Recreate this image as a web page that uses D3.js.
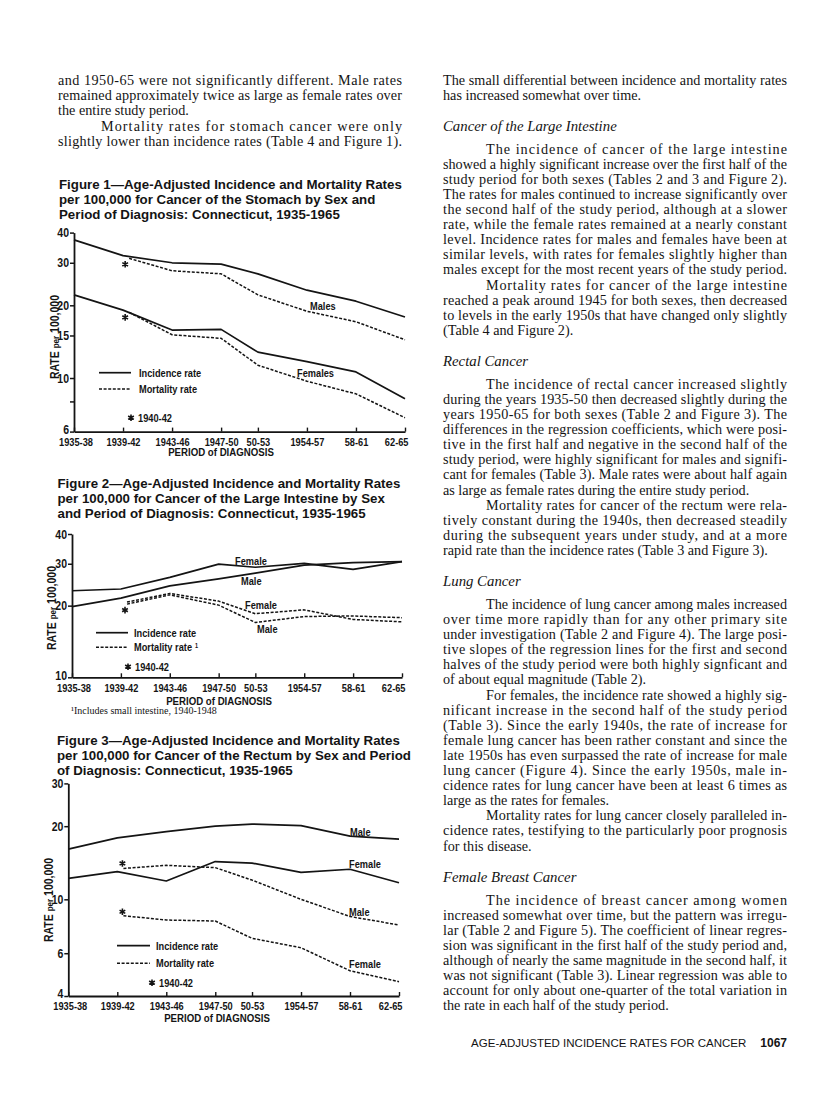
<!DOCTYPE html>
<html><head><meta charset="utf-8">
<script src="https://cdn.jsdelivr.net/npm/d3@7"></script>
<style>
body{margin:0;background:#fff;}
svg{display:block;}
</style></head><body>
<svg id="page" width="816" height="1096"></svg>
<script>
// ---------- DATA ----------
const periods = ["1935-38","1939-42","1943-46","1947-50","50-53","1954-57","58-61","62-65"];
const periodYears = [1936.5,1940.5,1944.5,1948.5,1951.5,1955.5,1959.5,1963.5];
const mortalityYears = [1941,1944.5,1948.5,1951.5,1955.5,1959.5,1963.5]; // first point = 1940-42

// Figure 1: stomach
const stomachMaleIncidence   = [37.3,32.1,30.0,29.6,27.0,23.1,20.8,17.9];
const stomachMaleMortality   = [31.3,27.8,27.0,22.1,18.9,17.1,14.4];
const stomachFemaleIncidence = [22.1,19.1,15.8,15.9,12.8,11.7,10.6,8.2];
const stomachFemaleMortality = [18.7,15.1,14.6,11.3,9.7,8.6,6.85];
const fig1Ticks = [6,8,10,15,20,30,40];
const fig1TickLabels = ["6","","10","15","20","30","40"];

// Figure 2: large intestine
const intestineFemaleIncidence = [23.1,23.5,26.3,29.9,29.0,30.1,28.4,30.6];
const intestineMaleIncidence   = [19.8,21.5,24.2,25.9,27.4,29.6,30.3,30.6];
const intestineFemaleMortality = [20.7,22.5,20.9,18.5,19.2,17.5,17.1];
const intestineMaleMortality   = [20.3,22.2,20.1,17.0,18.0,18.1,17.8];
const fig2Ticks = [10,20,30,40];
const fig2TickLabels = ["10","20","30","40"];

// Figure 3: rectum
const rectumMaleIncidence   = [16.1,17.9,19.0,20.0,20.4,20.1,18.2,17.7];
const rectumFemaleIncidence = [12.2,13.0,11.9,14.3,14.1,12.9,13.3,11.7];
const rectumMaleMortality   = [13.4,13.8,13.5,12.0,10.0,8.5,7.84];
const rectumFemaleMortality = [8.56,8.22,8.14,6.91,6.32,5.08,4.58];
const fig3Ticks = [4,6,10,20,30];
const fig3TickLabels = ["4","6","10","20","30"];

// ---------- TEXT ----------
const leftLines = [
  {t:"and 1950-65 were not significantly different. Male rates", j:1},
  {t:"remained approximately twice as large as female rates over", j:1},
  {t:"the entire study period."},
  {t:"Mortality rates for stomach cancer were only", j:1, ind:1},
  {t:"slightly lower than incidence rates (Table 4 and Figure 1).", j:1}
];
const rightLines = [
  {t:"The small differential between incidence and mortality rates", j:1},
  {t:"has increased somewhat over time."},
  {h:"Cancer of the Large Intestine"},
  {t:"The incidence of cancer of the large intestine", j:1, ind:1},
  {t:"showed a highly significant increase over the first half of the", j:1},
  {t:"study period for both sexes (Tables 2 and 3 and Figure 2).", j:1},
  {t:"The rates for males continued to increase significantly over", j:1},
  {t:"the second half of the study period, although at a slower", j:1},
  {t:"rate, while the female rates remained at a nearly constant", j:1},
  {t:"level. Incidence rates for males and females have been at", j:1},
  {t:"similar levels, with rates for females slightly higher than", j:1},
  {t:"males except for the most recent years of the study period.", j:1},
  {t:"Mortality rates for cancer of the large intestine", j:1, ind:1},
  {t:"reached a peak around 1945 for both sexes, then decreased", j:1},
  {t:"to levels in the early 1950s that have changed only slightly", j:1},
  {t:"(Table 4 and Figure 2)."},
  {h:"Rectal Cancer"},
  {t:"The incidence of rectal cancer increased slightly", j:1, ind:1},
  {t:"during the years 1935-50 then decreased slightly during the", j:1},
  {t:"years 1950-65 for both sexes (Table 2 and Figure 3). The", j:1},
  {t:"differences in the regression coefficients, which were posi-", j:1},
  {t:"tive in the first half and negative in the second half of the", j:1},
  {t:"study period, were highly significant for males and signifi-", j:1},
  {t:"cant for females (Table 3). Male rates were about half again", j:1},
  {t:"as large as female rates during the entire study period."},
  {t:"Mortality rates for cancer of the rectum were rela-", j:1, ind:1},
  {t:"tively constant during the 1940s, then decreased steadily", j:1},
  {t:"during the subsequent years under study, and at a more", j:1},
  {t:"rapid rate than the incidence rates (Table 3 and Figure 3)."},
  {h:"Lung Cancer"},
  {t:"The incidence of lung cancer among males increased", j:1, ind:1},
  {t:"over time more rapidly than for any other primary site", j:1},
  {t:"under investigation (Table 2 and Figure 4). The large posi-", j:1},
  {t:"tive slopes of the regression lines for the first and second", j:1},
  {t:"halves of the study period were both highly signficant and", j:1},
  {t:"of about equal magnitude (Table 2)."},
  {t:"For females, the incidence rate showed a highly sig-", j:1, ind:1},
  {t:"nificant increase in the second half of the study period", j:1},
  {t:"(Table 3). Since the early 1940s, the rate of increase for", j:1},
  {t:"female lung cancer has been rather constant and since the", j:1},
  {t:"late 1950s has even surpassed the rate of increase for male", j:1},
  {t:"lung cancer (Figure 4). Since the early 1950s, male in-", j:1},
  {t:"cidence rates for lung cancer have been at least 6 times as", j:1},
  {t:"large as the rates for females."},
  {t:"Mortality rates for lung cancer closely paralleled in-", j:1, ind:1},
  {t:"cidence rates, testifying to the particularly poor prognosis", j:1},
  {t:"for this disease."},
  {h:"Female Breast Cancer"},
  {t:"The incidence of breast cancer among women", j:1, ind:1},
  {t:"increased somewhat over time, but the pattern was irregu-", j:1},
  {t:"lar (Table 2 and Figure 5). The coefficient of linear regres-", j:1},
  {t:"sion was significant in the first half of the study period and,", j:1},
  {t:"although of nearly the same magnitude in the second half, it", j:1},
  {t:"was not significant (Table 3). Linear regression was able to", j:1},
  {t:"account for only about one-quarter of the total variation in", j:1},
  {t:"the rate in each half of the study period."}
];
const fig1Title = ["Figure 1\u2014Age-Adjusted Incidence and Mortality Rates","per 100,000 for Cancer of the Stomach by Sex and","Period of Diagnosis: Connecticut, 1935-1965"];
const fig2Title = ["Figure 2\u2014Age-Adjusted Incidence and Mortality Rates","per 100,000 for Cancer of the Large Intestine by Sex","and Period of Diagnosis: Connecticut, 1935-1965"];
const fig3Title = ["Figure 3\u2014Age-Adjusted Incidence and Mortality Rates","per 100,000 for Cancer of the Rectum by Sex and Period","of Diagnosis: Connecticut, 1935-1965"];

// ---------- PAGE ----------
const svg = d3.select("#page");
const INK = "#141414";
const SERIF = "'Liberation Serif','Times New Roman',serif";
const SANS = "'Liberation Sans',Arial,sans-serif";
const BODY_SIZE = 14.2, COLW = 344, INDENT = 43;

function bodyLine(x, y, d, w) {
  const xx = x + (d.ind ? INDENT : 0);
  const t = svg.append("text").attr("x", xx).attr("y", y)
    .attr("font-family", SERIF).attr("font-size", BODY_SIZE).attr("fill", INK).text(d.t);
  if (d.j) t.attr("textLength", w - (d.ind ? INDENT : 0)).attr("lengthAdjust", "spacing");
}
// left column
const LX = 58;
leftLines.forEach((d, i) => bodyLine(LX, 84.5 + i * 15.4, d, COLW));

// right column
const RX = 443, RLH = 15.1;
let cur = 84.5;
rightLines.forEach(d => {
  if (d.h) {
    const hy = cur - RLH + 31.5;
    svg.append("text").attr("x", RX).attr("y", hy).attr("font-family", SERIF)
      .attr("font-style", "italic").attr("font-size", 14.8).attr("fill", INK).text(d.h);
    cur = hy + 22.5;
  } else {
    bodyLine(RX, cur, d, COLW);
    cur += RLH;
  }
});
// footer
const foot = svg.append("text").attr("x", RX + COLW).attr("y", 1047).attr("text-anchor", "end")
  .attr("font-family", SANS).attr("font-size", 11.5).attr("fill", INK);
foot.append("tspan").text("AGE-ADJUSTED INCIDENCE RATES FOR CANCER");
foot.append("tspan").attr("dx", 14).attr("font-weight", "bold").attr("font-size", 12).text("1067");

function title(lines, x, y0) {
  lines.forEach((t, i) => svg.append("text").attr("x", x).attr("y", y0 + i * 15)
    .attr("font-family", SANS).attr("font-weight", "bold").attr("font-size", 13.3)
    .attr("fill", INK).text(t));
}
title(fig1Title, 59, 188.5);
title(fig2Title, 57.5, 487.5);
title(fig3Title, 57, 745);

// ---------- CHARTS ----------
function chartText(g) {
  return g.append("text").attr("class", "nar").attr("font-family", SANS)
    .attr("font-weight", "bold").attr("fill", INK);
}
function drawChart(c) {
  const g = svg.append("g");
  const x = d3.scaleLinear().domain([periodYears[0], periodYears[periodYears.length - 1]]).range([c.x0, c.x1]);
  const y = d3.scaleLog().domain(c.yDomain).range([c.yBottom, c.yTop]);

  // y axis
  const ya = g.append("g").attr("transform", `translate(${c.x0},0)`)
    .call(d3.axisLeft(y).tickValues(c.ticks).tickFormat((d, i) => c.tickLabels[i])
      .tickSize(4).tickSizeOuter(0).tickPadding(1));
  ya.attr("font-family", SANS).attr("font-size", 12.5).attr("font-weight", "bold");
  ya.select(".domain").attr("stroke", INK).attr("stroke-width", 1.8);
  ya.selectAll(".tick line").attr("stroke", INK).attr("stroke-width", 1.5);
  ya.selectAll(".tick text").attr("fill", INK).attr("class", "nar")
    .attr("y", (d, i) => i === 0 ? -c.lowLift : 0);

  // x axis
  const xa = g.append("g").attr("transform", `translate(0,${c.yBottom})`)
    .call(d3.axisBottom(x).tickValues(periodYears).tickFormat((d, i) => periods[i])
      .tickSize(-4).tickSizeOuter(0).tickPadding(c.xPad));
  xa.attr("font-family", SANS).attr("font-size", 11).attr("font-weight", "bold");
  xa.select(".domain").attr("stroke", INK).attr("stroke-width", 1.8);
  xa.selectAll(".tick line").attr("stroke", INK).attr("stroke-width", 1.4);
  xa.selectAll(".tick text").attr("fill", INK).attr("class", "nar")
    .attr("text-anchor", (d, i) => i === periods.length - 1 ? "end" : "middle")
    .attr("dx", (d, i) => i === periods.length - 1 ? 3 : (i === 0 ? 1.5 : 0));

  // axis titles
  const yt = chartText(g).attr("transform", `translate(${c.yTitle[0]},${c.yTitle[1]}) rotate(-90)`)
    .attr("text-anchor", "middle").attr("dominant-baseline", "central").attr("font-size", 12.5);
  yt.append("tspan").text("RATE ");
  yt.append("tspan").attr("font-size", 9.5).text("per");
  yt.append("tspan").text(" 100,000");
  chartText(g).attr("x", c.xTitle[0]).attr("y", c.xTitle[1]).attr("text-anchor", "middle")
    .attr("dominant-baseline", "central").attr("font-size", 11.5).text("PERIOD of DIAGNOSIS");

  // series
  const line = d3.line().x(d => x(d[0])).y(d => y(d[1]));
  c.series.forEach(s => {
    const yrs = s.mort ? mortalityYears : periodYears;
    g.append("path").datum(s.values.map((v, i) => [yrs[i], v]))
      .attr("d", line).attr("fill", "none").attr("stroke", INK)
      .attr("stroke-width", s.mort ? 1.5 : 1.7)
      .attr("stroke-dasharray", s.mort ? "3,1.6" : null)
      .attr("stroke-linejoin", "round");
  });

  // stars marking 1940-42
  const star = d3.symbol(d3.symbolAsterisk || d3.symbolCross, 30);
  c.stars.forEach(st => {
    g.append("path").attr("d", star())
      .attr("transform", `translate(${x(mortalityYears[0]) + st.dx},${y(st.v) + st.dy})`)
      .attr("fill", INK).attr("stroke", INK).attr("stroke-width", 1.6);
  });

  // line labels
  c.labels.forEach(l => chartText(g).attr("x", l.x).attr("y", l.y)
    .attr("dominant-baseline", "central").attr("font-size", 11).text(l.t));

  // legend
  const L = c.legend;
  g.append("line").attr("x1", L.x1).attr("x2", L.x2).attr("y1", L.y[0]).attr("y2", L.y[0])
    .attr("stroke", INK).attr("stroke-width", 1.7);
  g.append("line").attr("x1", L.x1).attr("x2", L.x2).attr("y1", L.y[1]).attr("y2", L.y[1])
    .attr("stroke", INK).attr("stroke-width", 1.5).attr("stroke-dasharray", "3,1.6");
  const lt = yy => chartText(g).attr("x", L.tx).attr("y", yy).attr("dominant-baseline", "central")
    .attr("font-size", 11);
  lt(L.y[0]).text("Incidence rate");
  lt(L.y[1]).text("Mortality rate");
  if (L.note) chartText(g).attr("x", L.tx + 61).attr("y", L.y[1] - 2)
    .attr("dominant-baseline", "central").attr("font-size", 6.5).text("1");
  g.append("path").attr("d", star()).attr("transform", `translate(${L.sx},${L.y[2]})`)
    .attr("fill", INK).attr("stroke", INK).attr("stroke-width", 1.6);
  lt(L.y[2]).attr("x", L.sx + 7).text("1940-42");
}

drawChart({
  x0: 74, x1: 405, yTop: 232.6, yBottom: 431.6, yDomain: [6, 40],
  ticks: fig1Ticks, tickLabels: fig1TickLabels, xPad: 6.5, lowLift: 2,
  yTitle: [54.5, 337], xTitle: [221, 452],
  series: [
    {values: stomachMaleIncidence}, {values: stomachMaleMortality, mort: 1},
    {values: stomachFemaleIncidence}, {values: stomachFemaleMortality, mort: 1}
  ],
  stars: [{v: stomachMaleMortality[0], dx: -4, dy: 6}, {v: stomachFemaleMortality[0], dx: -4, dy: 5}],
  labels: [{t: "Males", x: 310, y: 306}, {t: "Females", x: 297, y: 373}],
  legend: {x1: 99, x2: 131, tx: 139, sx: 131, y: [372.7, 389, 417.7]}
});

drawChart({
  x0: 72, x1: 402, yTop: 534, yBottom: 677.3, yDomain: [10, 40],
  ticks: fig2Ticks, tickLabels: fig2TickLabels, xPad: 7, lowLift: 2,
  yTitle: [51.5, 608], xTitle: [219, 700.5],
  series: [
    {values: intestineFemaleIncidence}, {values: intestineMaleIncidence},
    {values: intestineFemaleMortality, mort: 1}, {values: intestineMaleMortality, mort: 1}
  ],
  stars: [{v: intestineMaleMortality[0], dx: -2, dy: 6}],
  labels: [{t: "Female", x: 235, y: 561}, {t: "Male", x: 241, y: 581},
           {t: "Female", x: 245, y: 604.5}, {t: "Male", x: 257, y: 629}],
  legend: {x1: 96, x2: 128, tx: 134, sx: 128, note: 1, y: [632.7, 647.3, 666.7]}
});
svg.append("text").attr("x", 71).attr("y", 714).attr("font-family", SERIF)
  .attr("font-size", 10).attr("fill", INK).text("\u00b9Includes small intestine, 1940-1948");

drawChart({
  x0: 68.3, x1: 399, yTop: 783.4, yBottom: 996, yDomain: [4, 30],
  ticks: fig3Ticks, tickLabels: fig3TickLabels, xPad: 6.5, lowLift: 3,
  yTitle: [48.5, 900], xTitle: [217, 1018],
  series: [
    {values: rectumMaleIncidence}, {values: rectumFemaleIncidence},
    {values: rectumMaleMortality, mort: 1}, {values: rectumFemaleMortality, mort: 1}
  ],
  stars: [{v: rectumMaleMortality[0], dx: -1, dy: -5}, {v: rectumFemaleMortality[0], dx: -1, dy: -4}],
  labels: [{t: "Male", x: 350, y: 831.5}, {t: "Female", x: 349, y: 864},
           {t: "Male", x: 349, y: 911.5}, {t: "Female", x: 349, y: 964}],
  legend: {x1: 117, x2: 150, tx: 156, sx: 152, y: [945.7, 963.3, 982.7]}
});

// narrow the bold sans chart lettering (condensed face in the original)
svg.selectAll("text.nar").each(function () {
  const w = this.getComputedTextLength();
  if (w > 0) d3.select(this).attr("textLength", w * 0.84).attr("lengthAdjust", "spacingAndGlyphs");
});
</script></body></html>
